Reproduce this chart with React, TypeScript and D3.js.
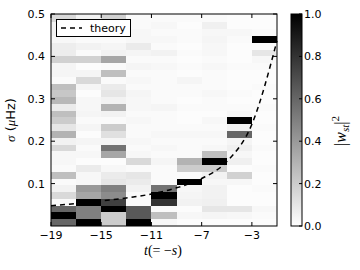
import React from "react";
import * as d3 from "d3";

// time columns (centres) and sigma bin width in muHz
const tCenters = [-18, -16, -14, -12, -10, -8, -6, -4, -2];
const sigmaBin = 0.016;

const xTicks = [-19, -15, -11, -7, -3];
const yTicks = [0.1, 0.2, 0.3, 0.4, 0.5];
const cbTicks = [0, 0.2, 0.4, 0.6, 0.8, 1.0];

// |w_st|^2 for each column, lowest sigma bin first
const wT18 = [0.6, 1.0, 0.6, 0.02, 0.15, 0.05, 0.02, 0.25, 0.02, 0.03, 0.03, 0.15, 0.05, 0.3, 0.1, 0.2,
  0.25, 0.08, 0.28, 0.22, 0.25, 0.02, 0.04, 0.04, 0.18, 0.07, 0.07, 0.03, 0.05, 0.05, 0.15, 0.15];
const wT16 = [1.0, 0.5, 0.5, 1.0, 0.35, 0.4, 0.03, 0.03, 0.08, 0.01, 0.03, 0.02, 0.04, 0.01, 0.04, 0.02,
  0.04, 0.03, 0.03, 0.01, 0.04, 0.15, 0.04, 0.01, 0.18, 0.02, 0.05, 0.02, 0.03, 0.03, 0.05, 0.05];
const wT14 = [0.2, 0.2, 1.0, 0.75, 0.45, 0.5, 0.1, 0.08, 0.03, 0.01, 0.35, 0.55, 0.04, 0.12, 0.2, 0.02,
  0.05, 0.3, 0.05, 0.1, 0.08, 0.02, 0.25, 0.02, 0.35, 0.05, 0.04, 0.02, 0.03, 0.03, 0.18, 0.18];
const wT12 = [1.0, 0.65, 0.65, 0.02, 0.02, 0.05, 0.08, 0.1, 0.02, 0.15, 0.03, 0.02, 0.03, 0.02, 0.02, 0.03,
  0.02, 0.03, 0.03, 0.04, 0.02, 0.03, 0.02, 0.04, 0.02, 0.04, 0.08, 0.03, 0.03, 0.02, 0.02, 0.02];
const wT10 = [0.03, 0.25, 0.02, 0.8, 1.0, 0.55, 0.02, 0.02, 0.02, 0.04, 0.02, 0.03, 0.02, 0.03, 0.02, 0.02,
  0.02, 0.04, 0.02, 0.02, 0.02, 0.02, 0.02, 0.03, 0.02, 0.05, 0.02, 0.03, 0.02, 0.03, 0.02, 0.02];
const wT8 = [0.01, 0.03, 0.01, 0.05, 0.04, 0.03, 1.0, 0.02, 0.2, 0.3, 0.02, 0.02, 0.02, 0.03, 0.02, 0.01,
  0.01, 0.02, 0.01, 0.02, 0.02, 0.04, 0.01, 0.02, 0.01, 0.02, 0.01, 0.02, 0.02, 0.01, 0.02, 0.02];
const wT6 = [0.01, 0.04, 0.1, 0.06, 0.05, 0.05, 0.03, 0.05, 0.2, 1.0, 0.25, 0.03, 0.02, 0.03, 0.02, 0.03,
  0.01, 0.02, 0.02, 0.03, 0.02, 0.02, 0.02, 0.03, 0.02, 0.03, 0.03, 0.04, 0.03, 0.06, 0.02, 0.02];
const wT4 = [0.01, 0.03, 0.1, 0.01, 0.01, 0.01, 0.03, 0.18, 0.01, 0.06, 0.03, 0.06, 0.04, 0.6, 0.05, 1.0,
  0.03, 0.02, 0.01, 0.02, 0.01, 0.01, 0.01, 0.02, 0.01, 0.01, 0.01, 0.02, 0.03, 0.01, 0.01, 0.01];
const wT2 = [0.01, 0.02, 0.03, 0.01, 0.01, 0.02, 0.01, 0.01, 0.02, 0.01, 0.01, 0.02, 0.01, 0.01, 0.02, 0.01,
  0.01, 0.02, 0.01, 0.01, 0.02, 0.01, 0.01, 0.02, 0.03, 0.1, 0.01, 1.0, 0.02, 0.01, 0.01, 0.01];

const weights = [wT18, wT16, wT14, wT12, wT10, wT8, wT6, wT4, wT2];

// theory curve
const theoryT = [-19, -17, -15, -13, -11, -9, -7, -5, -3, -1];
const theorySigma = [0.048, 0.053, 0.059, 0.066, 0.0755, 0.09, 0.112, 0.152, 0.24, 0.437];

const sans = "DejaVu Sans, sans-serif";
const serif = "Liberation Serif, DejaVu Serif, serif";

export default function App() {
  const left = 51, right = 277, top = 14, bottom = 226;
  const x = d3.scaleLinear().domain([-19, -1]).range([left, right]);
  const y = d3.scaleLinear().domain([0, 0.5]).range([bottom, top]);
  const color = d3.scaleLinear<string>().domain([0, 1]).range(["#ffffff", "#000000"]);

  const cbX = 291, cbW = 11;
  const cb = d3.scaleLinear().domain([0, 1]).range([bottom, top]);

  const line = d3
    .line<number>()
    .x((d, i) => x(theoryT[i]))
    .y(d => y(d))
    .curve(d3.curveMonotoneX);

  const cells: JSX.Element[] = [];
  weights.forEach((col, c) => {
    const t = tCenters[c];
    col.forEach((v, k) => {
      const s0 = k * sigmaBin;
      const s1 = Math.min((k + 1) * sigmaBin, 0.5);
      if (s0 >= 0.5) return;
      cells.push(
        <rect
          key={c + "-" + k}
          x={x(t - 1)}
          y={y(s1)}
          width={x(t + 1) - x(t - 1)}
          height={y(s0) - y(s1)}
          fill={color(v)}
          shapeRendering="crispEdges"
        />
      );
    });
  });

  const fmt = (v: number) => (v < 0 ? "\u2212" + Math.abs(v) : String(v));

  return (
    <svg
      width={360}
      height={270}
      style={{ position: "absolute", left: 0, top: 0, background: "#fff" }}
    >
      <defs>
        <linearGradient id="cbGrad" x1="0" y1="1" x2="0" y2="0">
          <stop offset="0%" stopColor="#ffffff" />
          <stop offset="100%" stopColor="#000000" />
        </linearGradient>
        <clipPath id="plotClip">
          <rect x={left} y={top} width={right - left} height={bottom - top} />
        </clipPath>
      </defs>

      <g clipPath="url(#plotClip)">{cells}</g>

      <path
        d={line(theorySigma) || ""}
        fill="none"
        stroke="#000"
        strokeWidth={1.5}
        strokeDasharray="5,4"
      />

      {/* legend */}
      <rect x={56.5} y={19.5} width={74} height={17} fill="#fff" stroke="#000" strokeWidth={1} />
      <line x1={61} x2={82} y1={28} y2={28} stroke="#000" strokeWidth={1.5} strokeDasharray="5,4" />
      <text x={90} y={32} fontFamily={sans} fontSize={11}>theory</text>

      {/* frame */}
      <rect x={left} y={top} width={right - left} height={bottom - top} fill="none" stroke="#000" strokeWidth={1} />

      {xTicks.map(t => (
        <g key={"xt" + t}>
          <line x1={x(t)} x2={x(t)} y1={bottom} y2={bottom - 4} stroke="#000" />
          <line x1={x(t)} x2={x(t)} y1={top} y2={top + 4} stroke="#000" />
          <text x={x(t)} y={239} textAnchor="middle" fontFamily={sans} fontSize={11}>
            {fmt(t)}
          </text>
        </g>
      ))}
      {yTicks.map(s => (
        <g key={"yt" + s}>
          <line x1={left} x2={left + 4} y1={y(s)} y2={y(s)} stroke="#000" />
          <line x1={right} x2={right - 4} y1={y(s)} y2={y(s)} stroke="#000" />
          <text x={45} y={y(s) + 4} textAnchor="end" fontFamily={sans} fontSize={11}>
            {s.toFixed(1)}
          </text>
        </g>
      ))}

      <text x={163} y={255} textAnchor="middle" fontFamily={serif} fontSize={14}>
        <tspan fontStyle="italic">t</tspan>(= {"\u2212"}<tspan fontStyle="italic">s</tspan>)
      </text>

      <text
        transform="translate(15,120) rotate(-90)"
        textAnchor="middle"
        fontSize={13}
        fontFamily={sans}
      >
        <tspan fontFamily={serif} fontStyle="italic">{"\u03c3"}</tspan> (
        <tspan fontFamily={serif} fontStyle="italic">{"\u03bc"}</tspan>Hz)
      </text>

      {/* colorbar */}
      <rect x={cbX} y={top} width={cbW} height={bottom - top} fill="url(#cbGrad)" stroke="#000" strokeWidth={1} />
      {cbTicks.map(v => (
        <g key={"cb" + v}>
          <line x1={cbX + cbW} x2={cbX + cbW - 3} y1={cb(v)} y2={cb(v)} stroke="#000" />
          <text x={304} y={cb(v) + 4} fontFamily={sans} fontSize={11}>
            {v.toFixed(1)}
          </text>
        </g>
      ))}
      <text
        transform="translate(346,131) rotate(-90)"
        textAnchor="middle"
        fontFamily={serif}
        fontSize={16}
      >
        |<tspan fontStyle="italic">w</tspan>
        <tspan fontStyle="italic" fontSize={11} dy={3}>st</tspan>
        <tspan dy={-3}>|</tspan>
        <tspan fontSize={11} dy={-7}>2</tspan>
      </text>
    </svg>
  );
}
